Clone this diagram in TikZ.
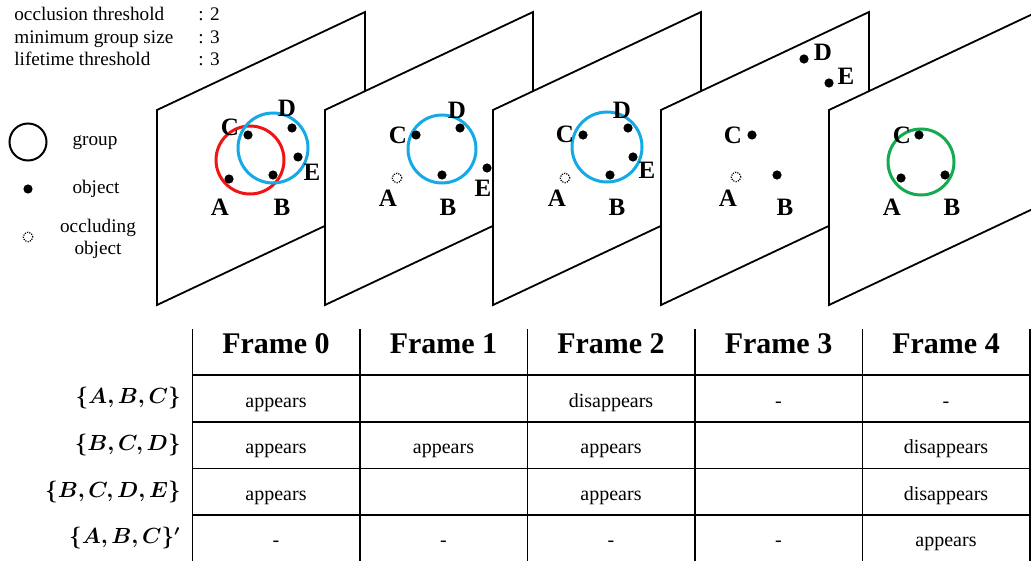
\documentclass[tikz,border=0pt]{standalone}
\usepackage{fontspec}
\setmainfont{Liberation Serif}
\usepackage{bm}

\definecolor{grpRed}  {RGB}{240,20,20}
\definecolor{grpBlue} {RGB}{20,170,230}
\definecolor{grpGreen}{RGB}{20,170,80}

\tikzset{
  frameplane/.style={draw, fill=white, line width=0.9pt},
  obj/.style={circle, fill=black, inner sep=0pt, minimum size=4.6pt},
  occ/.style={circle, draw, dash pattern=on 0.6pt off 0.6pt, line width=0.6pt,
              inner sep=0pt, minimum size=4.8pt},
  lbl/.style={inner sep=0pt, font=\fontsize{12.5}{14}\selectfont\bfseries},
  grp/.style={line width=1.5pt},
  legtext/.style={inner sep=0pt, font=\fontsize{9.6}{11}\selectfont},
  hdr/.style={inner sep=0pt, anchor=base, font=\fontsize{15}{17}\selectfont\bfseries},
  cell/.style={inner sep=0pt, anchor=base, font=\fontsize{10}{12}\selectfont},
  rowlbl/.style={inner sep=0pt, anchor=east, font=\fontsize{10.5}{13}\selectfont},
  tbl/.style={line width=0.8pt},
}

\begin{document}
\begin{tikzpicture}[x=0.5pt, y=-0.5pt]
  \useasboundingbox (0,0) rectangle (1031,561);
  \clip (0,0) rectangle (1031,561);

  % parameters
  \node[legtext, anchor=base west] (p1) at (14,21)   {occlusion threshold};
  \node[legtext, anchor=base west] (p2) at (14,43.5) {minimum group size};
  \node[legtext, anchor=base west] (p3) at (14,66)   {lifetime threshold};
  \node[legtext, anchor=base west] (v1) at (198,21)   {: 2};
  \node[legtext, anchor=base west] (v2) at (198,43.5) {: 3};
  \node[legtext, anchor=base west] (v3) at (198,66)   {: 3};

  % legend
  \draw[line width=1pt] (28,142) circle (18.5);
  \node[legtext] (lg1) at (95,143) {group};
  \node[obj] (lo) at (28,189) {};
  \node[legtext] (lg2) at (96,189) {object};
  \node[occ] (lc) at (28,237) {};
  \node[legtext] (lg3) at (98,227.5) {occluding};
  \node[legtext] (lg4) at (98,250) {object};

  % the five frames
  \foreach \i in {0,...,4}
    \path[frameplane] ({157+168*\i},110) -- ++(208,-98) -- ++(0,195)
          -- ++(-208,98) -- cycle;

  % frame 0
  \draw[grp, grpRed]  (250,160) circle (34);
  \draw[grp, grpBlue] (273,148) circle (35);
  \node[obj] (f0A) at (229,179) {};
  \node[obj] (f0B) at (273,175) {};
  \node[obj] (f0C) at (248,135) {};
  \node[obj] (f0D) at (292,128) {};
  \node[obj] (f0E) at (298,157) {};
  \node[lbl] (t0A) at (220,207) {A};
  \node[lbl] (t0B) at (282,207) {B};
  \node[lbl] (t0C) at (230,127) {C};
  \node[lbl] (t0D) at (287,108) {D};
  \node[lbl] (t0E) at (312,172) {E};

  % frame 1
  \begin{scope}[shift={(168,0)}]
    \draw[grp, grpBlue] (274,149) circle (34);
    \node[occ] (f1A) at (229,178) {};
    \node[obj] (f1B) at (274,175) {};
    \node[obj] (f1C) at (248,135) {};
    \node[obj] (f1D) at (292,128) {};
    \node[obj] (f1E) at (319,168) {};
    \node[lbl] (t1A) at (220,198) {A};
    \node[lbl] (t1B) at (280,207) {B};
    \node[lbl] (t1C) at (230,135) {C};
    \node[lbl] (t1D) at (289,110) {D};
    \node[lbl] (t1E) at (315,188) {E};
  \end{scope}

  % frame 2
  \begin{scope}[shift={(336,0)}]
    \draw[grp, grpBlue] (271,147) circle (35);
    \node[occ] (f2A) at (229,178) {};
    \node[obj] (f2B) at (274,175) {};
    \node[obj] (f2C) at (247,135) {};
    \node[obj] (f2D) at (292,128) {};
    \node[obj] (f2E) at (297,157) {};
    \node[lbl] (t2A) at (221,198) {A};
    \node[lbl] (t2B) at (281,207) {B};
    \node[lbl] (t2C) at (229,134) {C};
    \node[lbl] (t2D) at (286,110) {D};
    \node[lbl] (t2E) at (311,170) {E};
  \end{scope}

  % frame 3
  \begin{scope}[shift={(504,0)}]
    \node[occ] (f3A) at (232,177) {};
    \node[obj] (f3B) at (273,175) {};
    \node[obj] (f3C) at (248,135) {};
    \node[obj] (f3D) at (300,59) {};
    \node[obj] (f3E) at (325,83) {};
    \node[lbl] (t3A) at (224,198) {A};
    \node[lbl] (t3B) at (281,207) {B};
    \node[lbl] (t3C) at (229,135) {C};
    \node[lbl] (t3D) at (319,52) {D};
    \node[lbl] (t3E) at (342,76) {E};
  \end{scope}

  % frame 4
  \begin{scope}[shift={(672,0)}]
    \draw[grp, grpGreen] (249,162) circle (33);
    \node[obj] (f4A) at (229,178) {};
    \node[obj] (f4B) at (273,175) {};
    \node[obj] (f4C) at (247,135) {};
    \node[lbl] (t4A) at (220,207) {A};
    \node[lbl] (t4B) at (280,207) {B};
    \node[lbl] (t4C) at (230,135) {C};
  \end{scope}

  % table
  \foreach \x in {192.5,360,527.5,695,862.5,1030}
    \draw[tbl] (\x,329) -- (\x,561);
  \foreach \y in {375,421.7,468.3,515}
    \draw[tbl] (192.5,\y) -- (1031,\y);
  \foreach \c in {0,...,4}
    \node[hdr] (h\c) at ({276+167.5*\c},353) {Frame \c};
  \node[rowlbl] (r1) at (181,398.5) {$\bm{\{A,B,C\}}$};
  \node[rowlbl] (r2) at (181,445)   {$\bm{\{B,C,D\}}$};
  \node[rowlbl] (r3) at (181,491.7) {$\bm{\{B,C,D,E\}}$};
  \node[rowlbl] (r4) at (181,538)   {$\bm{\{A,B,C\}'}$};
  \foreach \r/\c/\t in {1/0/appears, 1/2/disappears, 1/3/-, 1/4/-,
                        2/0/appears, 2/1/appears, 2/2/appears, 2/4/disappears,
                        3/0/appears, 3/2/appears, 3/4/disappears,
                        4/0/-, 4/1/-, 4/2/-, 4/3/-, 4/4/appears}
    \node[cell] (c\r\c) at ({276+167.5*\c},{360.5+46.6*\r}) {\t};
\end{tikzpicture}
\end{document}
